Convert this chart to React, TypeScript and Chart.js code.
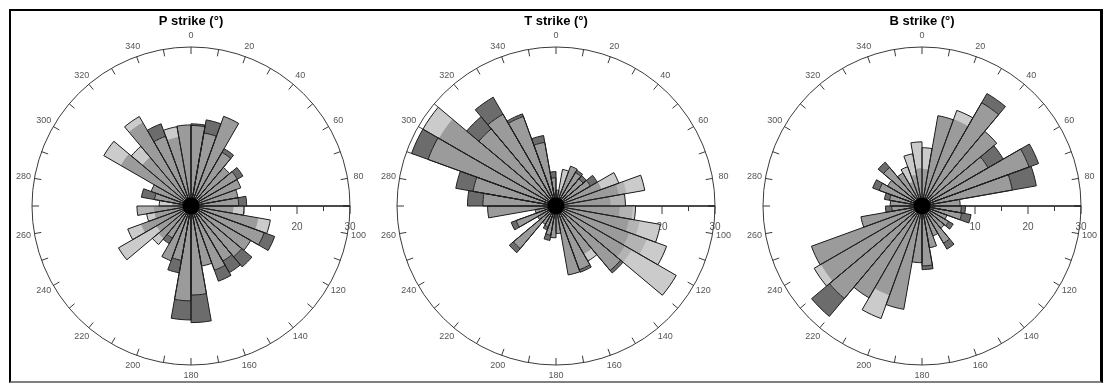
import { useEffect, useRef } from "react";
import { Chart, registerables } from "chart.js";

Chart.register(...registerables);

// ---- tick labels ----
const ANGLE_LABELS = ["0", "20", "40", "60", "80", "100", "120", "140", "160", "180", "200", "220", "240", "260", "280", "300", "320", "340"];
const AXIS_TICKS = [10, 15, 20, 25, 30];
const AXIS_TICK_LABELS = [10, 20, 30];
const R_MAX = 30;
const TITLES = ["P strike (°)", "T strike (°)", "B strike (°)"];

// ---- 10° bins (0-10, 10-20, ... 350-360) ----
const P_MAIN = [15.2, 14.0, 18.0, 11.7, 9.5, 10.1, 10.0, 9.0, 9.0, 8.0, 12.9, 14.7, 13.0, 12.5, 12.0, 12.9, 11.5, 16.8, 17.9, 10.4, 11.0, 7.0, 8.0, 7.5, 10.0, 7.0, 7.0, 3.5, 7.0, 8.0, 15.3, 12.0, 18.2, 14.0, 13.2, 15.3];
const P_MIDTONE = [0, 0, 0, 0, 0, 0, 0, 0, 0, 0, 0, 0, 0, 0, 0, 0, 0, 0, 0, 0, 0, 0, 0, 0, 0, 0, 3.2, 0, 0, 0, 0, 0, 0, 0, 0, 0];
const P_LIGHT = [0, 0, 0, 0, 0, 0, 0, 0, 0, 2.0, 2.3, 0, 0, 0, 0, 0, 0, 0, 0, 0, 0, 0, 1.5, 8.3, 2.7, 1.5, 0, 2.5, 0, 0, 3.7, 2.7, 1.3, 0, 2.0, 0];
const P_DARK = [0.3, 2.5, 0, 0.8, 0, 1.2, 0, 0, 1.5, 0, 0, 2.1, 0, 2.5, 2.5, 2.2, 0, 5.2, 3.6, 2.4, 0, 1.2, 0, 0, 0, 0, 0, 0, 2.5, 0, 0, 0, 0, 2.5, 0, 0];

const T_MAIN = [3.0, 3.0, 8.0, 7.3, 6.7, 7.5, 9.1, 12.0, 10.3, 12.0, 14.0, 14.7, 15.0, 15.9, 10.5, 12.8, 13.2, 5.2, 6.0, 5.6, 4.2, 4.0, 10.5, 4.0, 8.0, 4.0, 12.9, 13.8, 15.9, 25.7, 25.5, 19.0, 20.0, 18.0, 12.2, 5.3];
const T_MIDTONE = [0, 0, 0, 0, 0, 0, 0, 1.5, 2.8, 2.5, 2.0, 3.5, 1.5, 0, 0, 0, 0, 0, 0, 0, 0, 0, 0, 0, 0, 0, 0, 0, 0, 0, 0, 0, 0, 0, 0, 0];
const T_LIGHT = [0, 4.0, 0, 0, 0, 0, 3.5, 3.5, 0, 0.5, 4.0, 4.0, 9.7, 0, 1.5, 0, 0, 0, 0, 0, 0, 0, 0, 0, 0, 0, 0, 0, 0, 0, 3.5, 0, 0, 0, 0, 0];
const T_DARK = [0, 0, 0, 0.5, 0.8, 1.5, 0, 0, 0, 0, 0, 0, 0, 0.6, 0, 0.5, 0, 0, 0, 1.0, 0.6, 0, 1.0, 0, 1.0, 0, 0, 2.9, 3.3, 3.3, 0, 3.0, 3.7, 0.5, 1.3, 1.2];

const B_MAIN = [7.0, 17.3, 17.4, 22.5, 18.4, 14.4, 21.5, 17.3, 7.2, 7.4, 7.6, 5.0, 5.8, 5.5, 8.1, 6.0, 8.0, 11.3, 10.7, 19.8, 17.9, 20.0, 22.8, 22.0, 22.2, 11.7, 5.7, 6.0, 6.2, 8.6, 7.5, 9.5, 7.2, 4.9, 6.0, 7.1];
const B_MIDTONE = [0, 0, 0, 0, 0, 0, 0, 0, 0, 0, 0, 0, 0, 0, 0, 0, 0, 0, 0, 0, 0, 0, 0, 0, 0, 0, 0, 0, 0, 0, 0, 0, 0, 0, 0, 0];
const B_LIGHT = [4.0, 0, 1.8, 0, 0, 0, 0, 0, 0, 0, 0, 0, 0, 0, 0, 0, 0, 0, 0, 0, 4.7, 0, 0, 1.5, 0, 0, 0, 0, 0, 0, 0, 0, 0, 3.0, 4.0, 5.0];
const B_DARK = [0, 0, 0, 2.0, 0, 3.3, 1.9, 4.6, 0, 0.8, 1.8, 0, 1.0, 0, 1.3, 0, 0, 0.7, 0, 0, 0, 0, 4.4, 0, 0, 0, 1.2, 0, 1.0, 1.3, 0, 1.3, 0, 0, 0, 0];

const BIN_LABELS = P_MAIN.map((_, i) => `${i * 10}–${i * 10 + 10}`);

const COLORS = {
  main: "#9b9b9b",
  midtone: "#b3b3b3",
  light: "#cbcbcb",
  dark: "#6c6c6c",
  edge: "#1e1e1e",
  axis: "#3a3a3a",
  text: "#555555",
};
const FONT = '"Liberation Sans", Arial, Helvetica, sans-serif';

type Layers = { main: number[]; midtone: number[]; light: number[]; dark: number[] };

const ROSES: { title: string; layers: Layers; left: number }[] = [
  { title: TITLES[0], layers: { main: P_MAIN, midtone: P_MIDTONE, light: P_LIGHT, dark: P_DARK }, left: 8 },
  { title: TITLES[1], layers: { main: T_MAIN, midtone: T_MIDTONE, light: T_LIGHT, dark: T_DARK }, left: 373 },
  { title: TITLES[2], layers: { main: B_MAIN, midtone: B_MIDTONE, light: B_LIGHT, dark: B_DARK }, left: 739 },
];

function cumulate(...layers: number[][]) {
  return layers[0].map((_, i) => layers.reduce((s, l) => s + l[i], 0));
}

const roseDecor = {
  id: "roseDecor",
  beforeDatasetsDraw(chart: any) {
    const s = chart.scales.r;
    const ctx = chart.ctx as CanvasRenderingContext2D;
    const n = chart.data.labels.length;
    const R = s.getDistanceFromCenterForValue(R_MAX);
    ctx.save();
    // angular ticks every bin
    ctx.strokeStyle = COLORS.axis;
    ctx.lineWidth = 1;
    for (let i = 0; i < n; i++) {
      const a = s.getPointPosition(i, R);
      const b = s.getPointPosition(i, R - 7);
      ctx.beginPath();
      ctx.moveTo(a.x, a.y);
      ctx.lineTo(b.x, b.y);
      ctx.stroke();
    }
    // angle labels
    ctx.fillStyle = COLORS.text;
    ctx.font = `9px ${FONT}`;
    ctx.textAlign = "center";
    ctx.textBaseline = "middle";
    ANGLE_LABELS.forEach((t, k) => {
      const p = s.getPointPosition(k * 2, R + 11);
      ctx.fillText(t, p.x, p.y);
    });
    // radial axis toward 90°
    const eastIndex = n / 4;
    const end = s.getPointPositionForValue(eastIndex, R_MAX);
    ctx.strokeStyle = "#111";
    ctx.lineWidth = 1.3;
    ctx.beginPath();
    ctx.moveTo(s.xCenter, s.yCenter);
    ctx.lineTo(end.x, end.y);
    ctx.stroke();
    ctx.lineWidth = 1;
    ctx.strokeStyle = COLORS.axis;
    AXIS_TICKS.forEach((v) => {
      const p = s.getPointPositionForValue(eastIndex, v);
      const len = AXIS_TICK_LABELS.includes(v) ? 8 : 5;
      ctx.beginPath();
      ctx.moveTo(p.x, p.y);
      ctx.lineTo(p.x, p.y + len);
      ctx.stroke();
    });
    ctx.font = `10px ${FONT}`;
    AXIS_TICK_LABELS.forEach((v) => {
      const p = s.getPointPositionForValue(eastIndex, v);
      ctx.fillText(String(v), p.x, p.y + 21);
    });
    ctx.restore();
  },
  afterDatasetsDraw(chart: any) {
    const s = chart.scales.r;
    const ctx = chart.ctx as CanvasRenderingContext2D;
    ctx.save();
    ctx.fillStyle = "#000";
    ctx.beginPath();
    ctx.arc(s.xCenter, s.yCenter, s.getDistanceFromCenterForValue(1.6), 0, Math.PI * 2);
    ctx.fill();
    ctx.restore();
  },
};

function Rose({ title, layers, left }: { title: string; layers: Layers; left: number }) {
  const ref = useRef<HTMLCanvasElement>(null);
  useEffect(() => {
    const c1 = layers.main;
    const c2 = cumulate(layers.main, layers.midtone);
    const c3 = cumulate(layers.main, layers.midtone, layers.light);
    const c4 = cumulate(layers.main, layers.midtone, layers.light, layers.dark);
    const none = "rgba(0,0,0,0)";
    const chart = new Chart(ref.current as HTMLCanvasElement, {
      type: "polarArea",
      data: {
        labels: BIN_LABELS,
        datasets: [
          { label: "outline", data: c4, backgroundColor: none, borderColor: COLORS.edge, borderWidth: 1 },
          { label: "cap edge", data: c3, backgroundColor: none, borderColor: layers.dark.map((d) => (d > 0 ? COLORS.edge : none)), borderWidth: 1 },
          { label: "main", data: c1, backgroundColor: COLORS.main, borderWidth: 0 },
          { label: "midtone", data: c2, backgroundColor: COLORS.midtone, borderWidth: 0 },
          { label: "light", data: c3, backgroundColor: COLORS.light, borderWidth: 0 },
          { label: "dark", data: c4, backgroundColor: COLORS.dark, borderWidth: 0 },
        ],
      },
      options: {
        responsive: false,
        animation: false,
        layout: { padding: { left: 24, right: 24, top: 5, bottom: 18 } },
        plugins: {
          legend: { display: false },
          tooltip: { enabled: false },
          title: {
            display: true,
            text: title,
            color: "#000",
            font: { family: FONT, size: 13, weight: "bold" },
            padding: { top: 8.2, bottom: 18.2 },
          },
        },
        scales: {
          r: {
            min: 0,
            max: R_MAX,
            startAngle: 0,
            ticks: { display: false, stepSize: 10 },
            grid: {
              circular: true,
              lineWidth: 1,
              color: (ctx: any) => (ctx.tick && ctx.tick.value === R_MAX ? COLORS.axis : "rgba(0,0,0,0)"),
            },
            angleLines: { display: false },
            pointLabels: { display: false },
          },
        },
      } as any,
      plugins: [roseDecor],
    });
    return () => chart.destroy();
  }, [layers, title]);
  return (
    <canvas
      ref={ref}
      width={366}
      height={383}
      style={{ position: "absolute", left, top: 0, width: 366, height: 383, display: "block" }}
    />
  );
}

export default function App() {
  return (
    <div style={{ position: "fixed", left: 0, top: 0, width: 1111, height: 383, background: "#fff", overflow: "hidden" }}>
      <div
        style={{
          position: "absolute",
          left: 9,
          top: 9,
          width: 1094,
          height: 374,
          boxSizing: "border-box",
          borderTop: "2px solid #000",
          borderLeft: "2px solid #000",
          borderRight: "3px solid #000",
          borderBottom: "2px solid #808080",
        }}
      />
      {ROSES.map((r) => (
        <Rose key={r.title} title={r.title} layers={r.layers} left={r.left} />
      ))}
    </div>
  );
}
